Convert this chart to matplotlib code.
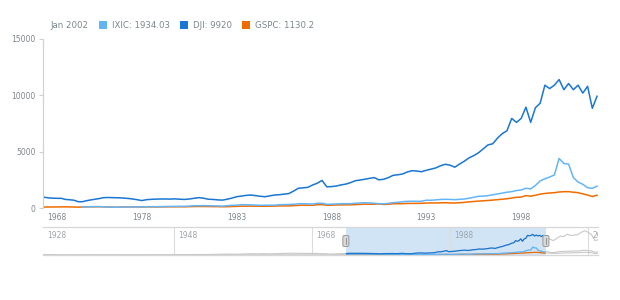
import numpy as np
import matplotlib
matplotlib.use("Agg")
import matplotlib.pyplot as plt
from matplotlib import transforms
from matplotlib.patches import Rectangle, FancyBboxPatch

# ---- data -------------------------------------------------------------
# main chart dates: half-yearly 1966.5-1977.5, quarterly 1978-2002
EARLY_YEARS = np.arange(1966.5, 1978.0, 0.5)
LATE_YEARS = np.arange(1978.0, 2002.01, 0.25)
YEARS = np.concatenate([EARLY_YEARS, LATE_YEARS])

DJI = [
    950, 900, 870, 860, 860, 760, 730, 690, 560, 560, 650, 720,
    780, 840, 920, 930, 920, 910, 900, 870, 840, 790, 730,
    660, 740, 770, 790, 800, 800, 790, 810,
    780, 760, 800, 860, 920, 870, 780, 760,
    720, 700, 780, 880, 1000, 1060, 1120, 1150,
    1100, 1040, 1000, 1080, 1150, 1180, 1230, 1280,
    1500, 1750, 1790, 1830, 2040, 2200, 2450, 1880,
    1900, 1950, 2050, 2120, 2250, 2420, 2480, 2550,
    2630, 2700, 2500, 2550, 2700, 2900, 2950, 3020,
    3200, 3310, 3280, 3220, 3350, 3450, 3560, 3750,
    3880, 3800, 3620, 3900, 4150, 4450, 4650, 4900,
    5250, 5600, 5700, 6200, 6600, 6850, 7950, 7600,
    7950, 8950, 7600, 8900, 9300, 10900, 10600, 10900,
    11400, 10500, 11050, 10500, 10900, 10200, 10800, 8850, 9920,
]
IXIC = [
    np.nan, np.nan, np.nan, np.nan, np.nan, np.nan, np.nan, np.nan, np.nan,
    100, 105, 115, 125, 120, 100, 90, 70, 65, 80, 90, 95, 97, 100,
    100, 110, 120, 115, 120, 135, 140, 145,
    150, 150, 170, 200, 200, 210, 200, 190,
    180, 170, 200, 240, 250, 300, 290, 280,
    260, 240, 250, 250, 250, 290, 300, 310,
    330, 380, 380, 370, 350, 420, 420, 330,
    340, 360, 380, 380, 380, 420, 450, 470,
    450, 420, 380, 370, 410, 480, 500, 560,
    590, 600, 590, 600, 690, 690, 720, 760,
    770, 760, 740, 770, 800, 870, 950, 1040,
    1050, 1100, 1170, 1250, 1320, 1400, 1450, 1550,
    1600, 1750, 1700, 2000, 2400, 2600, 2750, 2930,
    4400, 3950, 3900, 2700, 2300, 2100, 1800, 1750, 1934.03,
]
GSPC = [
    85, 88, 92, 95, 100, 102, 95, 88, 75, 92, 100, 104,
    108, 115, 105, 95, 80, 72, 90, 100, 104, 100, 98,
    90, 95, 100, 96, 100, 102, 108, 106,
    110, 105, 120, 128, 135, 133, 130, 122,
    120, 112, 115, 135, 145, 165, 165, 165,
    165, 157, 153, 165, 170, 180, 190, 185,
    210, 235, 250, 240, 245, 290, 300, 245,
    250, 265, 275, 280, 280, 300, 320, 345,
    330, 340, 360, 315, 330, 375, 380, 385,
    410, 405, 410, 415, 440, 450, 450, 460,
    470, 450, 445, 470, 500, 540, 580, 610,
    640, 670, 700, 740, 780, 820, 880, 950,
    970, 1100, 1050, 1130, 1230, 1290, 1330, 1360,
    1420, 1450, 1450, 1400, 1360, 1250, 1150, 1020, 1130.2,
]

# scroller extras (annual before, half-yearly after the main range)
PRE_YEARS = np.arange(1929, 1967)
PRE_DJI = [300, 250, 160, 60, 100, 100, 140, 180, 150, 150, 150, 130, 110,
           120, 135, 150, 190, 180, 180, 180, 200, 235, 270, 290, 280, 400,
           490, 500, 440, 580, 680, 615, 730, 650, 760, 870, 970, 900]
PRE_GSPC = [25, 16, 8, 7, 10, 9, 13, 17, 11, 13, 12, 10, 9, 10, 12, 13, 17,
            15, 15, 15, 17, 20, 24, 26, 25, 36, 45, 47, 40, 55, 60, 58, 72,
            63, 75, 84, 92, 85]
POST_YEARS = np.arange(2002.5, 2010.0, 0.5)
POST_DJI = [8700, 8000, 9300, 10450, 10300, 11500, 10800, 11000, 11200,
            12500, 13400, 12650, 11350, 8000, 8500]
POST_IXIC = [1400, 1350, 1600, 2000, 1950, 2100, 2100, 2250, 2200, 2450,
             2650, 2400, 2300, 1500, 1800]
POST_GSPC = [990, 880, 970, 1110, 1130, 1180, 1190, 1280, 1270, 1420,
             1500, 1380, 1280, 800, 900]

X_TICKS = [1968, 1978, 1983, 1988, 1993, 1998]
Y_TICKS = [0, 5000, 10000, 15000]
SCROLL_TICKS = [1928, 1948, 1968, 1988, 2008]
SELECTION = (1972.9, 2001.9)
LEGEND_DATE = "Jan 2002"

C_IXIC, C_DJI, C_GSPC = "#64b5f6", "#1976d2", "#ef6c00"
GREY_TXT = "#7c868e"

# ordinal-like axis: before 1978 the data is denser, so compress it
K = 8.5 / 19.0


def fwd(x):
    x = np.asarray(x, dtype=float)
    return np.where(x < 1978, 1978 + (x - 1978) * K, x)


def inv(y):
    y = np.asarray(y, dtype=float)
    return np.where(y < 1978, 1978 + (y - 1978) / K, y)


plt.rcParams["font.family"] = ["DejaVu Sans"]
fig = plt.figure(figsize=(6.2, 3.0), dpi=100)
W, H = 620.0, 300.0

# ---- main chart -------------------------------------------------------
ax = fig.add_axes([43 / W, 92 / H, 555 / W, 169 / H])
ax.set_xscale("function", functions=(fwd, inv))
ax.plot(YEARS, GSPC, color=C_GSPC, lw=1.1)
ax.plot(YEARS, IXIC, color=C_IXIC, lw=1.1)
ax.plot(YEARS, DJI, color=C_DJI, lw=1.1)
ax.set_xlim(1966.35, 2002.05)
ax.set_ylim(0, 15000)
for s in ("top", "right", "bottom"):
    ax.spines[s].set_visible(False)
ax.spines["left"].set_color("#d0d0d0")
ax.spines["left"].set_linewidth(0.8)
ax.set_yticks(Y_TICKS)
ax.set_yticklabels([str(v) for v in Y_TICKS])
ax.set_xticks(X_TICKS)
ax.set_xticklabels([str(v) for v in X_TICKS])
ax.xaxis.set_minor_locator(matplotlib.ticker.NullLocator())
ax.tick_params(axis="y", length=3, width=0.8, color="#d0d0d0",
               labelsize=5.5, labelcolor=GREY_TXT, pad=2.5)
ax.tick_params(axis="x", length=0, labelsize=5.5, labelcolor=GREY_TXT, pad=3.5)

# legend line at the top
fig.text(50 / W, 1 - 25 / H, LEGEND_DATE, fontsize=6.2, color=GREY_TXT, va="center")
items = [("IXIC", IXIC[-1], C_IXIC, 99), ("DJI", DJI[-1], C_DJI, 180),
         ("GSPC", GSPC[-1], C_GSPC, 242)]
for name, val, col, px in items:
    fig.patches.append(Rectangle((px / W, 1 - 29 / H), 8 / W, 8 / H,
                                 transform=fig.transFigure, facecolor=col,
                                 edgecolor="none"))
    fig.text((px + 13) / W, 1 - 25 / H, f"{name}: {val:g}", fontsize=6.2,
             color=GREY_TXT, va="center")

# ---- scroller ---------------------------------------------------------
sc = fig.add_axes([43 / W, 45 / H, 555 / W, 28 / H])
sy = np.concatenate([PRE_YEARS, YEARS, POST_YEARS])
s_dji = np.concatenate([PRE_DJI, DJI, POST_DJI])
s_ixic = np.concatenate([[np.nan] * len(PRE_YEARS), IXIC, POST_IXIC])
s_gspc = np.concatenate([PRE_GSPC, GSPC, POST_GSPC])
sc.set_xlim(1929.0, 2009.45)
sc.set_ylim(0, 15500)

sc.axvspan(*SELECTION, color="#d1e4f6", lw=0, zorder=0)
for t in SCROLL_TICKS[1:]:
    sc.axvline(t, color="#dcdcdc", lw=0.8, zorder=1)
lab_tr = transforms.offset_copy(sc.get_xaxis_transform(), fig=fig,
                                x=3, y=-3, units="points")
for t in SCROLL_TICKS:
    sc.text(max(t, 1929.0), 1, str(t), transform=lab_tr, fontsize=5.5,
            color="#a0a4a8", va="top", ha="left", clip_on=True)

for vals in (s_gspc, s_ixic, s_dji):
    sc.plot(sy, vals, color="#c8c8c8", lw=0.8, zorder=2)
mask = (sy >= SELECTION[0]) & (sy <= SELECTION[1])
sc.plot(sy[mask], s_gspc[mask], color=C_GSPC, lw=0.9, zorder=3)
sc.plot(sy[mask], s_ixic[mask], color=C_IXIC, lw=0.9, zorder=3)
sc.plot(sy[mask], s_dji[mask], color=C_DJI, lw=0.9, zorder=3)

for s in ("left", "right"):
    sc.spines[s].set_visible(False)
for s in ("top", "bottom"):
    sc.spines[s].set_color("#d7d7d7")
    sc.spines[s].set_linewidth(0.9)
sc.set_xticks([])
sc.set_yticks([])

# handles at selection edges
for xh in SELECTION:
    tr = fig.dpi_scale_trans + transforms.ScaledTranslation(
        xh, 0.5, sc.get_xaxis_transform())
    sc.add_patch(FancyBboxPatch((-0.03, -0.055), 0.06, 0.11,
                                boxstyle="round,pad=0,rounding_size=0.015",
                                transform=tr, facecolor="#d8d8d8",
                                edgecolor="#9a9a9a", lw=0.7, zorder=5,
                                clip_on=False))
    sc.add_line(plt.Line2D([0, 0], [-0.03, 0.03], transform=tr,
                           color="#8a8a8a", lw=0.6, zorder=6, clip_on=False))

fig.savefig("out.png", dpi=100, facecolor="white")
